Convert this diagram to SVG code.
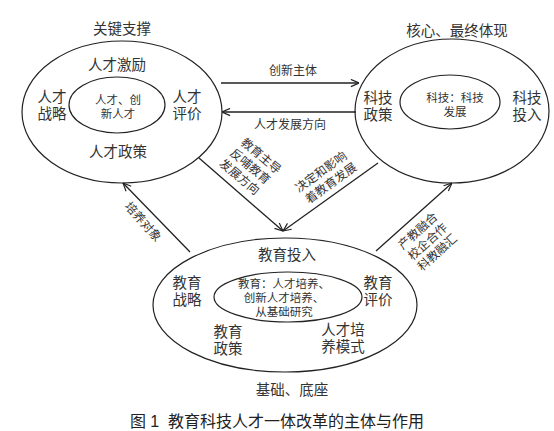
<svg xmlns="http://www.w3.org/2000/svg" width="554" height="431" viewBox="0 0 554 431">
<defs>
<marker id="arr" viewBox="0 0 10 10" refX="10" refY="5" markerWidth="9" markerHeight="9" orient="auto" markerUnits="userSpaceOnUse">
<path d="M1,1 L10,5 L1,9" fill="none" stroke="#222" stroke-width="1.3"/>
</marker>
<style>
.e{fill:none;stroke:#222;stroke-width:1.2}
.c{fill:none;stroke:#222;stroke-width:1.3}
text{font-family:"Liberation Sans","Noto Sans CJK SC",sans-serif;fill:#333;text-anchor:middle;dominant-baseline:central}
.l{font-size:14.5px}
.s{font-size:11.5px}
.m{font-size:12px}
.cap{font-size:16px;fill:#222}
</style>
</defs>
<rect width="554" height="431" fill="#fff"/>
<g id="connectors">
<line class="c" x1="221" y1="83" x2="359" y2="83" marker-end="url(#arr)"/>
<line class="c" x1="356" y1="112" x2="222" y2="112" marker-end="url(#arr)"/>
<line class="c" x1="199" y1="158" x2="283" y2="231" marker-end="url(#arr)"/>
<line class="c" x1="378" y1="163" x2="283" y2="231" marker-end="url(#arr)"/>
<line class="c" x1="190" y1="252" x2="123" y2="183" marker-end="url(#arr)"/>
<line class="c" x1="376" y1="251" x2="452" y2="183" marker-end="url(#arr)"/>
<text class="m" x="293" y="71">创新主体</text>
<text class="m" x="290" y="125">人才发展方向</text>
<text class="m" transform="translate(261,156) rotate(40)"><tspan x="0" y="0">教育主导</tspan><tspan x="-1.5" dy="15">反哺教育</tspan><tspan x="-3" dy="15">发展方向</tspan></text>
<text class="m" transform="translate(321,172) rotate(-36)"><tspan x="0" y="0">决定和影响</tspan><tspan x="1.5" dy="15">着教育发展</tspan></text>
<text class="m" transform="translate(143,222) rotate(48)">培养对象</text>
<text class="m" transform="translate(418,231) rotate(-42)"><tspan x="0" y="0">产教融合</tspan><tspan x="0" dy="14.5">校企合作</tspan><tspan x="0" dy="14.5">科教融汇</tspan></text>
</g>
<g id="talent">
<ellipse class="e" cx="122" cy="112" rx="100" ry="71"/>
<ellipse class="e" cx="117" cy="105" rx="48" ry="28"/>
<text class="l" x="122" y="29">关键支撑</text>
<text class="l" x="117" y="65">人才激励</text>
<text class="l"><tspan x="52" y="97">人才</tspan><tspan x="52" y="114">战略</tspan></text>
<text class="s"><tspan x="118" y="100">人才、创</tspan><tspan x="118" y="114">新人才</tspan></text>
<text class="l"><tspan x="187" y="97">人才</tspan><tspan x="187" y="114">评价</tspan></text>
<text class="l" x="118" y="152">人才政策</text>
</g>
<g id="tech">
<ellipse class="e" cx="452" cy="111" rx="97" ry="72"/>
<ellipse class="e" cx="450" cy="102" rx="50" ry="27"/>
<text class="l" x="457" y="31">核心、最终体现</text>
<text class="l"><tspan x="378" y="98">科技</tspan><tspan x="378" y="115">政策</tspan></text>
<text class="s"><tspan x="455" y="98">科技：科技</tspan><tspan x="455" y="112">发展</tspan></text>
<text class="l"><tspan x="527" y="98">科技</tspan><tspan x="527" y="115">投入</tspan></text>
</g>
<g id="education">
<ellipse class="e" cx="285" cy="305" rx="132" ry="67"/>
<ellipse class="e" cx="288" cy="297" rx="74" ry="25"/>
<text class="l" x="287" y="255">教育投入</text>
<text class="l"><tspan x="187" y="283">教育</tspan><tspan x="187" y="300">战略</tspan></text>
<text class="s"><tspan x="284" y="284">教育：人才培养、</tspan><tspan x="284" y="298">创新人才培养、</tspan><tspan x="284" y="312">从基础研究</tspan></text>
<text class="l"><tspan x="378" y="283">教育</tspan><tspan x="378" y="300">评价</tspan></text>
<text class="l"><tspan x="228" y="332">教育</tspan><tspan x="228" y="349">政策</tspan></text>
<text class="l"><tspan x="343" y="330">人才培</tspan><tspan x="343" y="347">养模式</tspan></text>
<text class="l" x="292" y="390">基础、底座</text>
</g>
<text class="cap" x="277" y="421" xml:space="preserve">图 1  教育科技人才一体改革的主体与作用</text>
</svg>
